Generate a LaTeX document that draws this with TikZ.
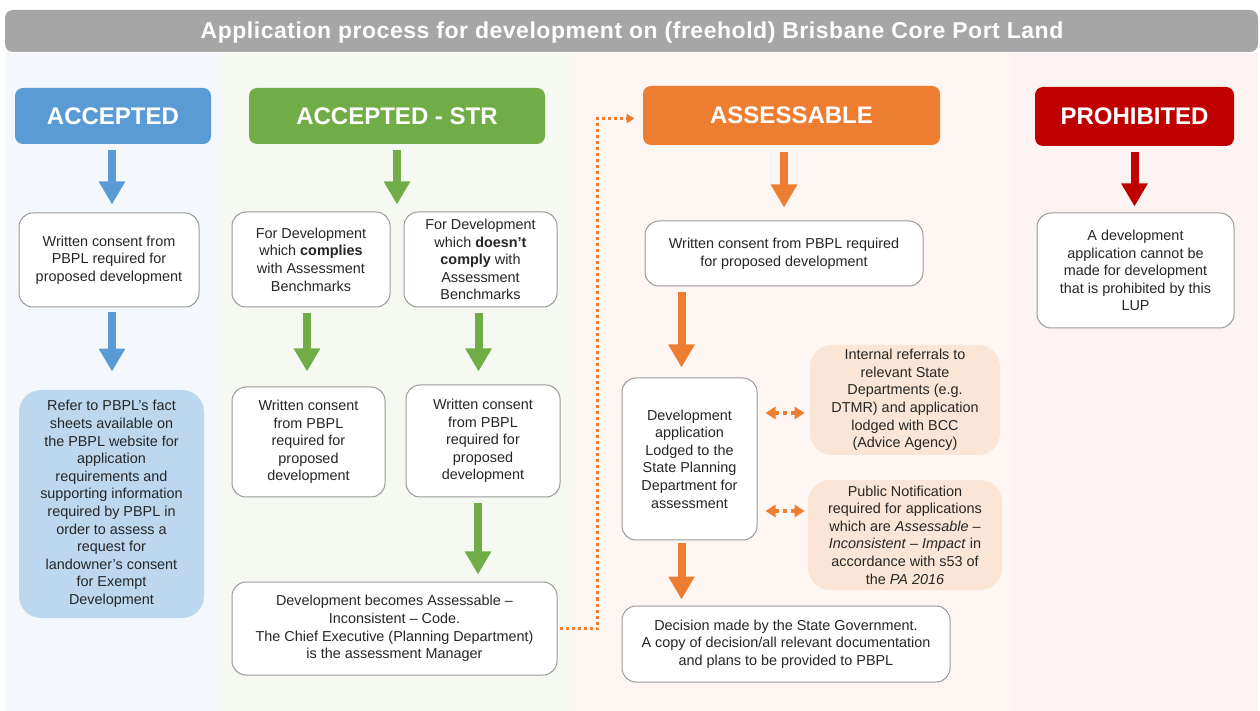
\documentclass[tikz,border=0pt]{standalone}
\usepackage{fontspec}
\setmainfont{Liberation Sans}
\usetikzlibrary{arrows.meta}

\definecolor{acc}{HTML}{5B9BD5}
\definecolor{accnote}{HTML}{BDD7EE}
\definecolor{accbg}{HTML}{F4F8FC}
\definecolor{str}{HTML}{70AD47}
\definecolor{strbg}{HTML}{F5F9F2}
\definecolor{ass}{HTML}{ED7D31}
\definecolor{assnote}{HTML}{FBE5D6}
\definecolor{assbg}{HTML}{FDF6F2}
\definecolor{pro}{HTML}{C00000}
\definecolor{probg}{HTML}{FEF3F3}
\definecolor{bar}{HTML}{A6A6A6}
\definecolor{edge}{HTML}{9A9A9A}
\definecolor{txt}{HTML}{262626}

\begin{document}
\begin{tikzpicture}
  [x=0.5pt,y=-0.5pt,
   every node/.style={font=\fontsize{7.2}{8.8}\selectfont,text=txt,align=center,inner sep=0pt},
   head/.style={fill=#1,rounded corners=4pt,text=white,font=\fontsize{12}{14}\selectfont\bfseries},
   card/.style={draw=edge,fill=white,line width=0.5pt,rounded corners=7pt},
   note/.style={fill=#1,rounded corners=11pt},
   flow/.style={draw=#1,line width=4pt,-{Triangle[width=12.5pt,length=11.5pt]}},
   link/.style={draw=ass,line width=1.5pt,dash pattern=on 1.5pt off 1.5pt,-{Triangle[width=4.5pt,length=4pt]}},
   refer/.style={draw=ass,line width=2pt,dash pattern=on 2pt off 2pt,{Triangle[width=6pt,length=5pt]}-{Triangle[width=6pt,length=5pt]}}]

  \useasboundingbox (0,0) rectangle (1260,711);

  % column backgrounds and title bar
  \fill[accbg] (5,53) rectangle (221,711);
  \fill[strbg] (221,53) rectangle (574,711);
  \fill[assbg] (574,53) rectangle (1010,711);
  \fill[probg] (1010,53) rectangle (1258,711);
  \fill[bar,rounded corners=4pt] (5,10) rectangle (1258,52);
  \node[text=white,font=\fontsize{11.5}{13}\selectfont\bfseries\addfontfeatures{LetterSpace=2.3}] (title) at (632,33)
    {Application process for development on (freehold) Brisbane Core Port Land};

  % headers
  \node[head=acc,minimum width=98pt,minimum height=28pt] (acc) at (113,116) {ACCEPTED};
  \node[head=str,minimum width=148pt,minimum height=28pt] (str) at (397,116) {ACCEPTED - STR};
  \node[head=ass,minimum width=148.5pt,minimum height=29.5pt] (ass) at (791.5,115.5) {ASSESSABLE};
  \node[head=pro,minimum width=99.5pt,minimum height=29.5pt] (pro) at (1134.5,116.5) {PROHIBITED};

  % accepted
  \node[card,minimum width=90pt,minimum height=47pt] (w1) at (109,260)
    {Written consent from\\PBPL required for\\proposed development};
  \node[note=accnote,minimum width=92.5pt,minimum height=114pt] (facts) at (111.5,504)
    {Refer to PBPL’s fact\\sheets available on\\the PBPL website for\\application\\requirements and\\supporting information\\required by PBPL in\\order to assess a\\request for\\landowner’s consent\\for Exempt\\Development};

  % accepted - str
  \node[card,minimum width=79pt,minimum height=47.5pt] (g1) at (311,259.5)
    {For Development\\which \textbf{complies}\\with Assessment\\Benchmarks};
  \node[card,minimum width=76.5pt,minimum height=47.5pt] (g2) at (480.5,259.5)
    {For Development\\which \textbf{doesn’t}\\\textbf{comply} with\\Assessment\\Benchmarks};
  \node[card,minimum width=76.5pt,minimum height=55pt] (g3) at (308.5,442)
    {Written consent\\from PBPL\\required for\\proposed\\development};
  \node[card,minimum width=77pt,minimum height=56pt] (g4) at (483,441)
    {Written consent\\from PBPL\\required for\\proposed\\development};
  \node[card,minimum width=162.5pt,minimum height=46.5pt] (g5) at (394.5,628.5)
    {Development becomes Assessable –\\Inconsistent – Code.\\The Chief Executive (Planning Department)\\is the assessment Manager};

  % assessable
  \node[card,minimum width=139pt,minimum height=32.5pt] (o1) at (784,253.5)
    {Written consent from PBPL required\\for proposed development};
  \node[card,minimum width=67.5pt,minimum height=81pt] (o2) at (689.5,459)
    {Development\\application\\Lodged to the\\State Planning\\Department for\\assessment};
  \node[note=assnote,minimum width=95pt,minimum height=55pt] (o3) at (905,400)
    {Internal referrals to\\relevant State\\Departments (e.g.\\DTMR) and application\\lodged with BCC\\(Advice Agency)};
  \node[note=assnote,minimum width=97pt,minimum height=55pt] (o4) at (905,535)
    {Public Notification\\required for applications\\which are \textit{Assessable} –\\\textit{Inconsistent} – \textit{Impact} in\\accordance with s53 of\\the \textit{PA 2016}};
  \node[card,minimum width=164pt,minimum height=38pt] (o5) at (786,644)
    {Decision made by the State Government.\\A copy of decision/all relevant documentation\\and plans to be provided to PBPL};

  % prohibited
  \node[card,minimum width=98.5pt,minimum height=57.5pt] (r1) at (1135.5,270.5)
    {A development\\application cannot be\\made for development\\that is prohibited by this\\LUP};

  % block arrows
  \draw[flow=acc,shorten <=3pt,shorten >=4pt] ([xshift=-0.5pt]acc.south) -- ([xshift=-0.5pt]acc.south |- w1.north);
  \draw[flow=acc,shorten <=2.5pt,shorten >=9pt] ([xshift=1.5pt]w1.south) -- ([xshift=1.5pt]w1.south |- facts.north);
  \draw[flow=str,shorten <=3pt,shorten >=3.5pt] (str.south) -- (str.south |- g1.north);
  \draw[flow=str,shorten <=3pt,shorten >=7.5pt] ([xshift=-2pt]g1.south) -- ([xshift=-2pt]g1.south |- g3.north);
  \draw[flow=str,shorten <=3pt,shorten >=6.5pt] ([xshift=-1pt]g2.south) -- ([xshift=-1pt]g2.south |- g4.north);
  \draw[flow=str,shorten <=3pt,shorten >=3.5pt] ([xshift=-2.5pt]g4.south) -- ([xshift=-2.5pt]g4.south |- g5.north);
  \draw[flow=ass,shorten <=3.5pt,shorten >=6.5pt] (o1.north |- ass.south) -- (o1.north);
  \draw[flow=ass,shorten <=3pt,shorten >=5pt] ([xshift=-4pt]o2.north |- o1.south) -- ([xshift=-4pt]o2.north);
  \draw[flow=ass,shorten <=1.5pt,shorten >=3pt] ([xshift=-4pt]o2.south) -- ([xshift=-4pt]o2.south |- o5.north);
  \draw[flow=pro,shorten <=3pt,shorten >=3pt] (pro.south) -- (pro.south |- r1.north);

  % dotted links
  \draw[link,shorten <=1pt,shorten >=4pt] (g5.east) -- ++(20pt,0) |- ([yshift=-1.5pt]ass.west);
  \draw[refer,shorten <=4pt,shorten >=2.5pt] ([yshift=23pt]o2.east) -- ([yshift=23pt]o2.east -| o3.west);
  \draw[refer,shorten <=4pt,shorten >=1.5pt] ([yshift=-26pt]o2.east) -- ([yshift=-26pt]o2.east -| o4.west);
\end{tikzpicture}
\end{document}
